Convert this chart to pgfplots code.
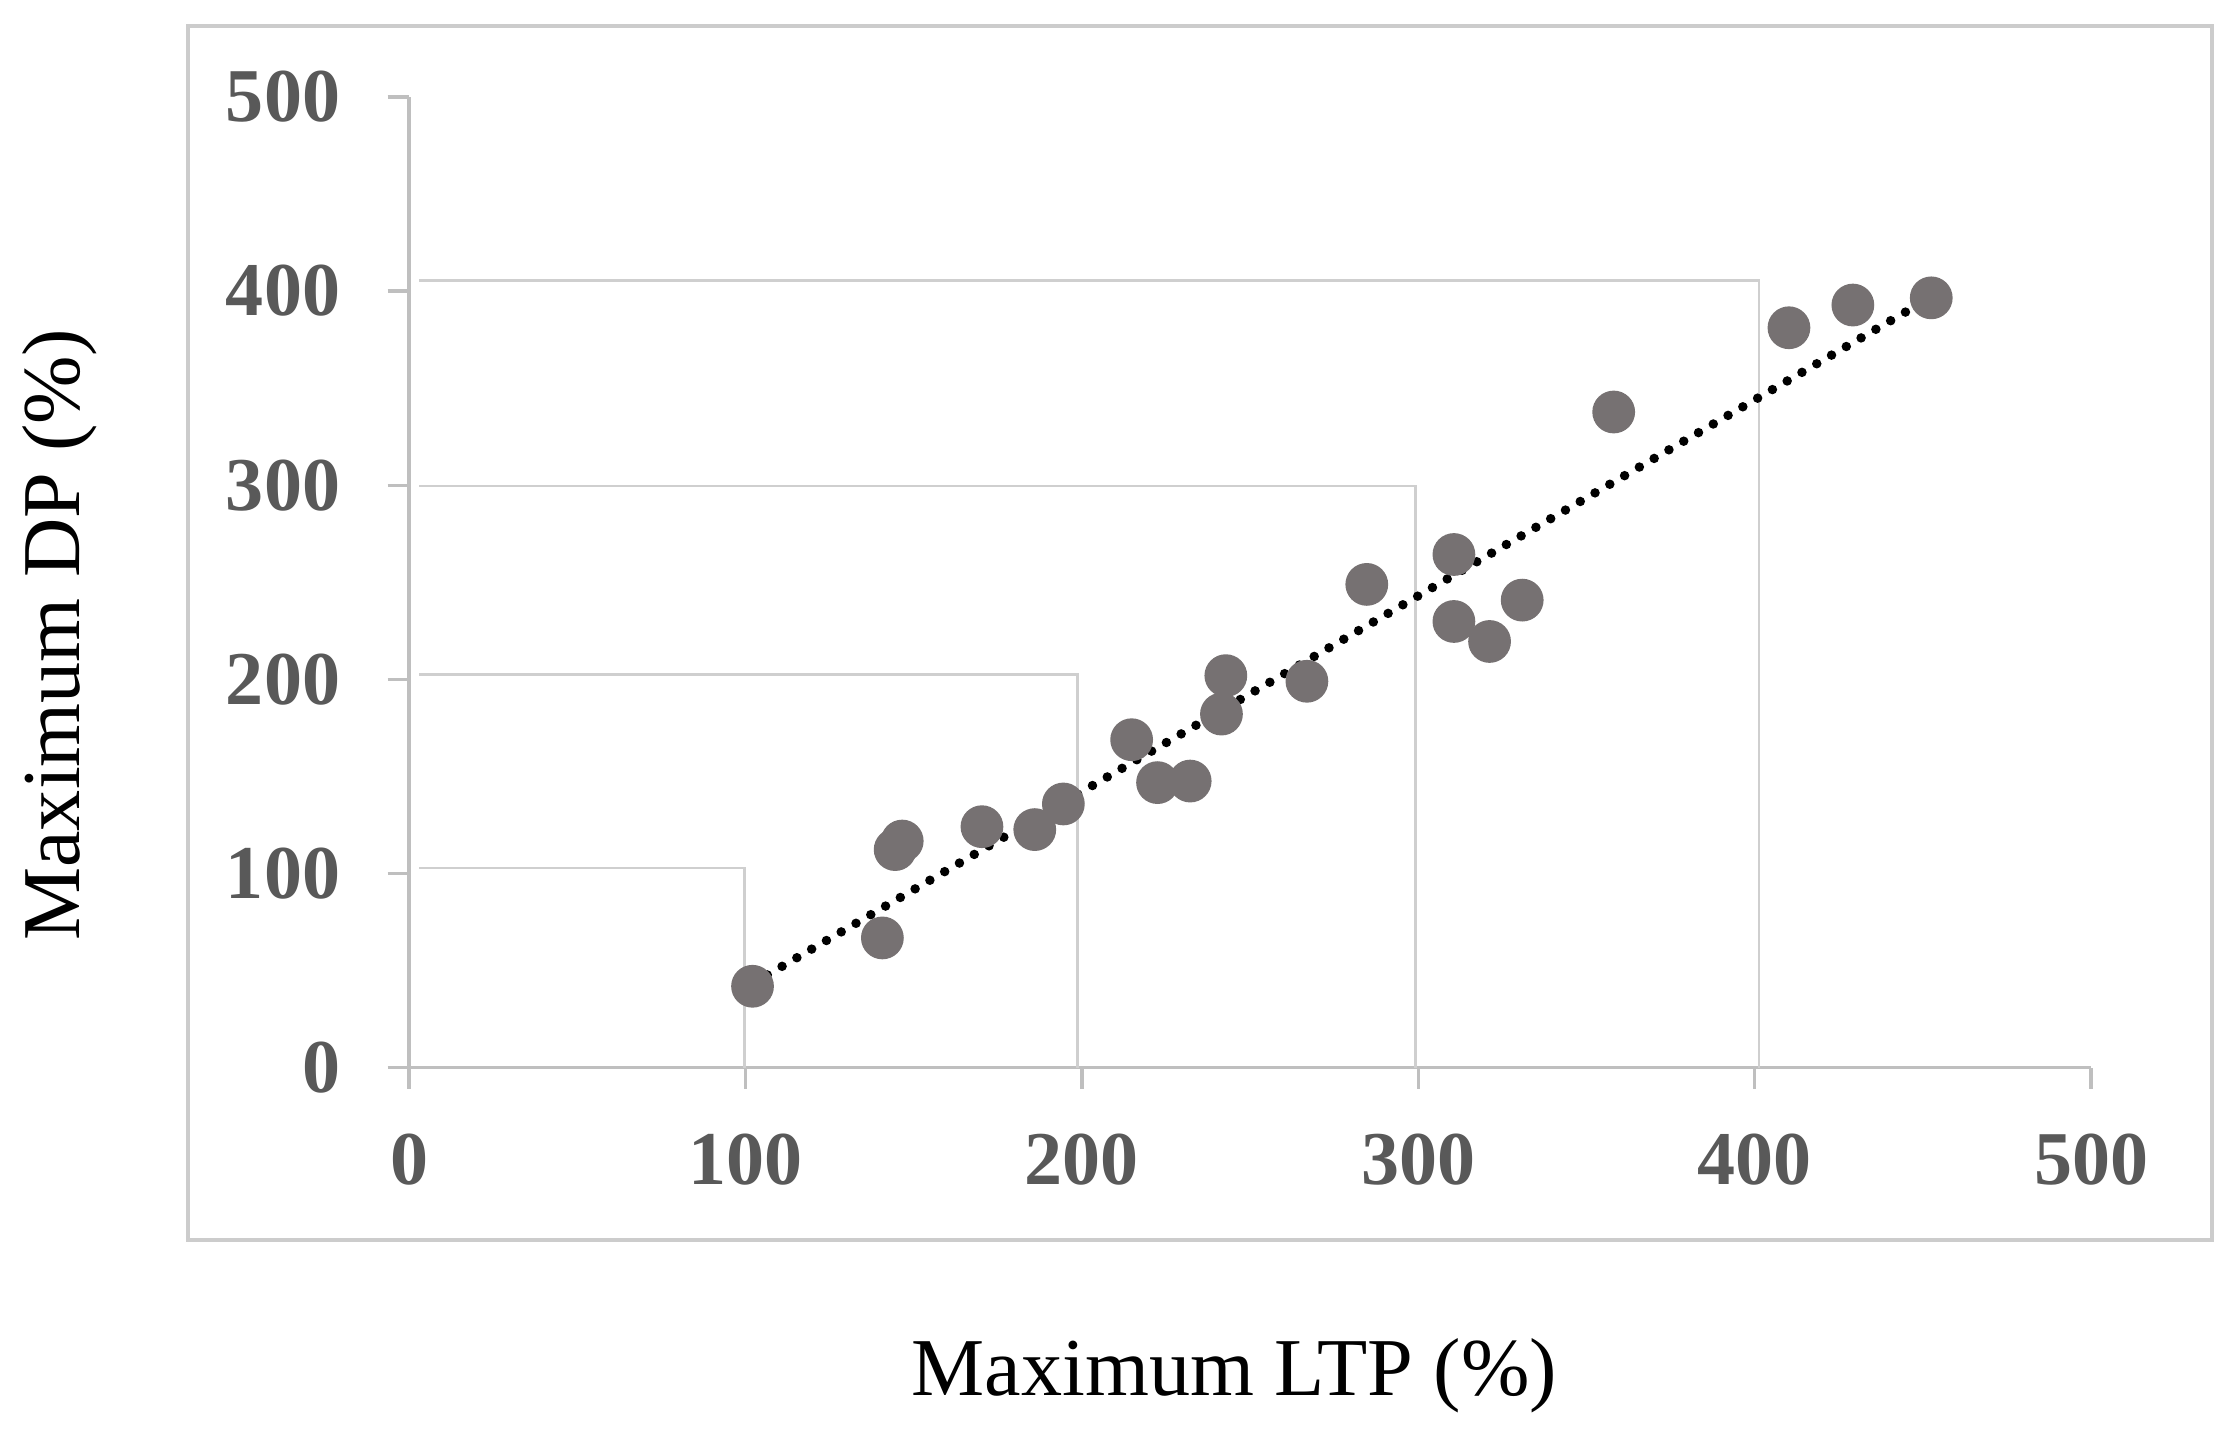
\documentclass[border=0pt]{standalone}
\usepackage{fontspec}
\setmainfont{Liberation Serif}
\usepackage{pgfplots}
\pgfplotsset{compat=1.18}
\definecolor{markgray}{HTML}{767172}
\definecolor{tickgray}{HTML}{595959}
\definecolor{axgray}{HTML}{BFBFBF}
\definecolor{dropgray}{HTML}{CFCFCF}
\begin{document}
\begin{tikzpicture}
\useasboundingbox (-86.1pt,-79.8pt) rectangle (384.3pt,224.7pt);
\draw[color=gray!40, line width=0.8pt] (-46.5pt,-36.3pt) rectangle (379.5pt,219.3pt);
\begin{axis}[
  scale only axis,
  width=354pt, height=204.3pt,
  xmin=0, xmax=500, ymin=0, ymax=500,
  axis x line=bottom, axis y line=left,
  axis line style={draw=axgray, line width=0.7pt, -},
  xtick={0,100,...,500}, ytick={0,100,...,500},
  tick align=outside, major tick length=4.5pt,
  tick style={draw=axgray, line width=0.7pt},
  /pgf/number format/assume math mode=true,
  ticklabel style={font=\fontsize{16}{16}\selectfont\bfseries, text=tickgray},
  xticklabel style={yshift=-6pt},
  yticklabel style={xshift=-6.5pt},
  xlabel={Maximum LTP (\%)},
  ylabel={Maximum DP (\%)},
  label style={font=\fontsize{17.3}{17.3}\selectfont, text=black},
  xlabel style={at={(axis description cs:0.4907,-0.317)}, anchor=center},
  ylabel style={at={(axis description cs:-0.2076,0.446)}, anchor=center, rotate=0},
  clip=false,
]
\addplot[dropgray, line width=0.6pt] coordinates {(3,102.8) (99.6,102.8) (99.6,0)};
\addplot[dropgray, line width=0.6pt] coordinates {(3,202.6) (198.7,202.6) (198.7,0)};
\addplot[dropgray, line width=0.6pt] coordinates {(3,299.6) (299.2,299.6) (299.2,0)};
\addplot[dropgray, line width=0.6pt] coordinates {(3,405.3) (401.3,405.3) (401.3,0)};
\addplot[only marks, mark=*, mark size=4.3pt, mark options={fill=markgray, draw=markgray}] coordinates {
(102.1,41.9) (140.7,66.8) (144.5,112.3) (146.6,116.7) (170.3,124.1)
(186.0,122.6) (194.5,135.8) (214.8,168.9) (222.5,146.8) (232.2,147.6)
(241.5,182.1) (242.8,201.9) (266.9,199.0) (284.7,248.9) (310.6,264.3)
(310.6,229.8) (321.2,219.5) (330.9,240.8) (358.1,337.7) (410.2,381.1)
(429.2,392.8) (452.5,396.5)
};
\addplot[black, line width=2pt, line cap=round, dash pattern=on 0pt off 3.6pt] coordinates {(102.1,43.3) (451.3,395.7)};
\end{axis}
\end{tikzpicture}
\end{document}
